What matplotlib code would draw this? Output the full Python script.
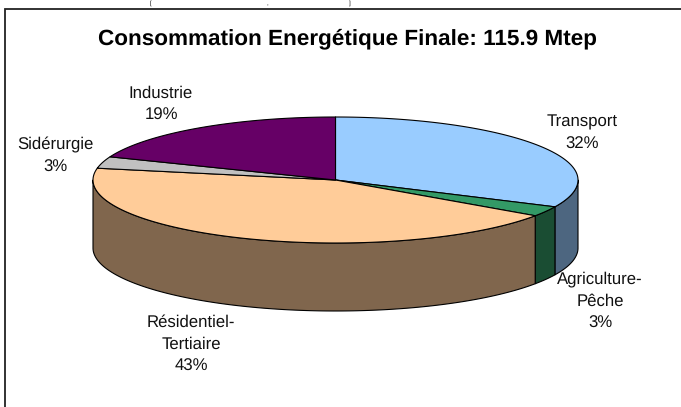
import numpy as np
import matplotlib
matplotlib.use("Agg")
import matplotlib.pyplot as plt
from matplotlib.patches import Polygon, Rectangle

plt.rcParams['font.family'] = ['Liberation Sans', 'DejaVu Sans']
plt.rcParams['text.hinting'] = 'none'
plt.rcParams['text.hinting_factor'] = 8

title = "Consommation Energétique Finale: 115.9 Mtep"
categories = ["Transport", "Agriculture-\nPêche", "Résidentiel-\nTertiaire", "Sidérurgie", "Industrie"]
values = [32, 2.6, 43.4, 3, 19]
percents = [32, 3, 43, 3, 19]
top_colors = ["#99CCFF", "#339966", "#FFCC99", "#C0C0C0", "#660066"]
side_colors = ["#4D6680", "#1A4D33", "#80664D", "#606060", "#330033"]
label_pos = [(582.5, 133), (600, 301), (191, 344), (55.5, 156), (161, 104)]
cropped_text = [(150, "["), (267, ","), (350, "]")]

W, H = 681, 407
cx, cy, rx, ry, depth = 335.5, 180.0, 242.5, 63.0, 68.0

fig = plt.figure(figsize=(W / 100, H / 100), dpi=100)
ax = fig.add_axes([0, 0, 1, 1])
ax.set_xlim(0, W)
ax.set_ylim(H, 0)
ax.axis("off")

ax.add_patch(Rectangle((5, 9), 800, 600, fc="white", ec="#222222", lw=1.3))

for x0, s in cropped_text:
    ax.text(x0, 0.5, s, ha="center", va="top", fontsize=4.5, color="black")


def pt(theta):
    return cx + rx * np.sin(theta), cy - ry * np.cos(theta)


edges = np.cumsum([0] + values) / sum(values) * 2 * np.pi

# side walls (only the front half of the cylinder is visible)
for a, b, c in zip(edges[:-1], edges[1:], side_colors):
    lo, hi = max(a, np.pi / 2), min(b, 3 * np.pi / 2)
    if hi <= lo:
        continue
    t = np.linspace(lo, hi, 160)
    x, y = pt(t)
    xy = np.r_[np.c_[x, y], np.c_[x[::-1], y[::-1] + depth]]
    ax.add_patch(Polygon(xy, closed=True, fc=c, ec="black", lw=0.8, joinstyle="round"))

# top faces
for a, b, c in zip(edges[:-1], edges[1:], top_colors):
    t = np.linspace(a, b, 240)
    x, y = pt(t)
    xy = np.r_[[[cx, cy]], np.c_[x, y]]
    ax.add_patch(Polygon(xy, closed=True, fc=c, ec="black", lw=0.8, joinstyle="round"))

for name, p, pos in zip(categories, percents, label_pos):
    ax.text(pos[0], pos[1], f"{name}\n{p}%", ha="center", va="center",
            fontsize=12.1, color="#111111", linespacing=1.5)

ax.text(347, 39, title, ha="center", va="center", fontsize=16.2, fontweight="bold", color="black")

fig.savefig("out.png", dpi=100, facecolor="white")
